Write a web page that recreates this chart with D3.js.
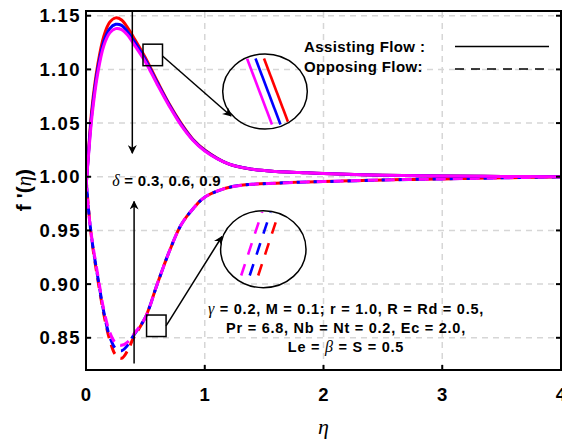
<!DOCTYPE html>
<html>
<head>
<meta charset="utf-8">
<script src="https://cdn.jsdelivr.net/npm/d3@7"></script>
<style>
  body { margin: 0; background: #fff; }
  svg { display: block; }
  .bold { font-family: "Liberation Sans", Arial, sans-serif; font-weight: bold; }
  .greek { font-family: "Liberation Serif", "DejaVu Serif", serif; font-style: italic; }
</style>
</head>
<body>
<div id="chart"></div>
<script>
// eta grid and the six f'(eta) profiles (delta = 0.3, 0.6, 0.9)
var eta = [0, 0.02, 0.05, 0.1, 0.15, 0.2, 0.25, 0.3, 0.35, 0.4, 0.5, 0.6, 0.7, 0.8, 0.9, 1.0, 1.2, 1.4, 1.6, 1.8, 2.0, 2.5, 3.0, 3.5, 4.0];

var assistD03 = [0.99, 1.022, 1.064, 1.105, 1.131, 1.144, 1.148, 1.146, 1.139, 1.130, 1.111, 1.089, 1.068, 1.050, 1.035, 1.025, 1.012, 1.007, 1.005, 1.004, 1.003, 1.0015, 1.0008, 1.0003, 1.0];
var assistD06 = [0.99, 1.020, 1.060, 1.101, 1.126, 1.138, 1.142, 1.141, 1.135, 1.127, 1.109, 1.0875, 1.067, 1.049, 1.0345, 1.0245, 1.012, 1.007, 1.005, 1.004, 1.003, 1.0015, 1.0008, 1.0003, 1.0];
var assistD09 = [0.99, 1.018, 1.056, 1.097, 1.122, 1.134, 1.138, 1.137, 1.132, 1.124, 1.107, 1.086, 1.066, 1.048, 1.034, 1.024, 1.012, 1.007, 1.005, 1.004, 1.003, 1.0015, 1.0008, 1.0003, 1.0];

var opposeD03 = [1.0, 0.972, 0.940, 0.904, 0.872, 0.848, 0.834, 0.831, 0.838, 0.850, 0.869, 0.900, 0.930, 0.955, 0.970, 0.981, 0.990, 0.993, 0.994, 0.995, 0.9955, 0.997, 0.998, 0.999, 1.0];
var opposeD06 = [1.0, 0.971, 0.941, 0.906, 0.874, 0.851, 0.840, 0.838, 0.843, 0.852, 0.869, 0.900, 0.930, 0.955, 0.970, 0.981, 0.990, 0.993, 0.994, 0.995, 0.9955, 0.997, 0.998, 0.999, 1.0];
var opposeD09 = [1.0, 0.970, 0.942, 0.908, 0.876, 0.855, 0.845, 0.843, 0.846, 0.853, 0.869, 0.900, 0.930, 0.955, 0.970, 0.981, 0.990, 0.993, 0.994, 0.995, 0.9955, 0.997, 0.998, 0.999, 1.0];

var xTicks = [0, 1, 2, 3, 4];
var yTicks = [0.85, 0.90, 0.95, 1.00, 1.05, 1.10, 1.15];
var legendLabels = ['Assisting Flow :', 'Opposing Flow:'];
var deltaLabel = '0.3, 0.6, 0.9';
var paramLines = [
    ['\u03b3', ' = 0.2, M = 0.1; r = 1.0, R = Rd = 0.5,'],
    ['Pr = 6.8, Nb = Nt = 0.2, Ec = 2.0,'],
    ['Le = ', '\u03b2', ' = S = 0.5']
];

var colors = ['#ff0000', '#0000ff', '#ff00ff'];

var width = 562, height = 439;
var margin = { top: 11, right: 1, bottom: 69, left: 86 };

var x = d3.scaleLinear().domain([0, 4]).range([margin.left, width - margin.right]);
var y = d3.scaleLinear().domain([0.82, 1.1544]).range([height - margin.bottom, margin.top]);

var svg = d3.select('#chart').append('svg')
    .attr('width', width)
    .attr('height', height);

var defs = svg.append('defs');
defs.append('clipPath').attr('id', 'plotClip')
    .append('rect')
    .attr('x', x(0)).attr('y', y.range()[1])
    .attr('width', x(4) - x(0)).attr('height', y.range()[0] - y.range()[1]);

defs.append('marker')
    .attr('id', 'arrow')
    .attr('viewBox', '0 0 10 10')
    .attr('refX', 9).attr('refY', 5)
    .attr('markerWidth', 9).attr('markerHeight', 9)
    .attr('markerUnits', 'userSpaceOnUse')
    .attr('orient', 'auto')
    .append('path')
    .attr('d', 'M0,0 L10,5 L0,10 L3,5 Z')
    .attr('fill', '#000');

// grid
var grid = svg.append('g');
grid.selectAll('.gx').data(xTicks.slice(1, -1)).enter().append('line')
    .attr('x1', function(d) { return x(d); }).attr('x2', function(d) { return x(d); })
    .attr('y1', y.range()[0]).attr('y2', y.range()[1]);
grid.selectAll('.gy').data(yTicks).enter().append('line')
    .attr('x1', x(0)).attr('x2', x(4))
    .attr('y1', function(d) { return y(d); }).attr('y2', function(d) { return y(d); });
grid.selectAll('line')
    .attr('stroke', '#d6d6d6')
    .attr('stroke-width', 1.5)
    .attr('stroke-dasharray', '6,5');

// curves
var line = d3.line()
    .x(function(d) { return x(d[0]); })
    .y(function(d) { return y(d[1]); })
    .curve(d3.curveCatmullRom.alpha(0.5));

function pairs(vals) {
    return eta.map(function(e, i) { return [e, vals[i]]; });
}

var curves = svg.append('g').attr('clip-path', 'url(#plotClip)');
[opposeD03, opposeD06, opposeD09].forEach(function(vals, i) {
    curves.append('path')
        .attr('d', line(pairs(vals)))
        .attr('fill', 'none')
        .attr('stroke', colors[i])
        .attr('stroke-width', 3)
        .attr('stroke-dasharray', '10,7')
        .attr('stroke-dashoffset', i * 6);
});
[assistD03, assistD06, assistD09].forEach(function(vals, i) {
    curves.append('path')
        .attr('d', line(pairs(vals)))
        .attr('fill', 'none')
        .attr('stroke', colors[i])
        .attr('stroke-width', 3);
});

// frame + ticks
var frame = svg.append('g').attr('stroke', '#000').attr('stroke-width', 2);
frame.append('rect')
    .attr('x', x(0)).attr('y', y.range()[1])
    .attr('width', x(4) - x(0)).attr('height', y.range()[0] - y.range()[1])
    .attr('fill', 'none');
frame.selectAll('.tl').data(yTicks).enter().append('line')
    .attr('x1', x(0)).attr('x2', x(0) + 5)
    .attr('y1', function(d) { return y(d); }).attr('y2', function(d) { return y(d); });
frame.selectAll('.tr').data(yTicks).enter().append('line')
    .attr('x1', x(4)).attr('x2', x(4) - 5)
    .attr('y1', function(d) { return y(d); }).attr('y2', function(d) { return y(d); });
frame.selectAll('.tb').data(xTicks).enter().append('line')
    .attr('x1', function(d) { return x(d); }).attr('x2', function(d) { return x(d); })
    .attr('y1', y.range()[0]).attr('y2', y.range()[0] - 5);

svg.append('g').selectAll('text').data(yTicks).enter().append('text')
    .attr('class', 'bold')
    .attr('x', x(0) - 5)
    .attr('y', function(d) { return y(d); })
    .attr('dy', '0.36em')
    .attr('text-anchor', 'end')
    .attr('font-size', 18.5)
    .attr('letter-spacing', 1.4)
    .text(function(d) { return d.toFixed(2); });

svg.append('g').selectAll('text').data(xTicks).enter().append('text')
    .attr('class', 'bold')
    .attr('x', function(d) { return x(d); })
    .attr('y', 401)
    .attr('text-anchor', 'middle')
    .attr('font-size', 18.5)
    .text(function(d) { return d; });

svg.append('text').attr('class', 'greek')
    .attr('x', x(2)).attr('y', 434)
    .attr('text-anchor', 'middle')
    .attr('font-size', 22)
    .text('\u03b7');

var yl = svg.append('text')
    .attr('transform', 'translate(31,190) rotate(-90)')
    .attr('text-anchor', 'middle')
    .attr('font-size', 21);
yl.append('tspan').attr('class', 'bold').text("f '(");
yl.append('tspan').attr('class', 'greek').text('\u03b7');
yl.append('tspan').attr('class', 'bold').text(')');

// legend
var lg = svg.append('g');
lg.selectAll('text').data(legendLabels).enter().append('text')
    .attr('class', 'bold')
    .attr('x', 304)
    .attr('y', function(d, i) { return 51.5 + i * 20; })
    .attr('font-size', 15)
    .attr('letter-spacing', 0.4)
    .text(function(d) { return d; });
lg.append('line').attr('x1', 455).attr('x2', 549).attr('y1', 46.5).attr('y2', 46.5)
    .attr('stroke', '#000').attr('stroke-width', 1.5);
lg.append('line').attr('x1', 455).attr('x2', 549).attr('y1', 69).attr('y2', 69)
    .attr('stroke', '#000').attr('stroke-width', 1.5).attr('stroke-dasharray', '9,7');

// delta arrows
var ann = svg.append('g');
ann.append('line')
    .attr('x1', x(0.39)).attr('x2', x(0.39))
    .attr('y1', y.range()[1]).attr('y2', y(1.022))
    .attr('stroke', '#000').attr('stroke-width', 1.5)
    .attr('marker-end', 'url(#arrow)');
ann.append('line')
    .attr('x1', x(0.405)).attr('x2', x(0.405))
    .attr('y1', y(0.826)).attr('y2', y(0.977))
    .attr('stroke', '#000').attr('stroke-width', 1.5)
    .attr('marker-end', 'url(#arrow)');
var dt = ann.append('text')
    .attr('x', x(0.22)).attr('y', y(1.0) + 9)
    .attr('font-size', 15)
    .attr('letter-spacing', 0.3);
dt.append('tspan').attr('class', 'greek').attr('font-size', 16).text('\u03b4');
dt.append('tspan').attr('class', 'bold').text(' = ' + deltaLabel);

// parameter text block
var pt = ann.append('text')
    .attr('text-anchor', 'middle')
    .attr('font-size', 14.5)
    .attr('letter-spacing', 0.75);
paramLines.forEach(function(parts, i) {
    parts.forEach(function(p, j) {
        var isGreek = (p === '\u03b3' || p === '\u03b2');
        var ts = pt.append('tspan').attr('class', isGreek ? 'greek' : 'bold').text(p);
        if (isGreek) ts.attr('font-size', 16);
        if (j === 0) ts.attr('x', 346).attr('y', 313.5 + i * 19);
    });
});

// zoom boxes, pointer arrows and magnifier circles
function magnifier(box, target, cx, cy, rx, ry, dashed) {
    var g = ann.append('g');
    g.append('rect')
        .attr('x', box[0]).attr('y', box[1]).attr('width', box[2]).attr('height', box[3])
        .attr('fill', 'none').attr('stroke', '#000').attr('stroke-width', 1.5);
    g.append('line')
        .attr('x1', box[0] + box[2]).attr('y1', dashed ? box[1] + box[3] / 2 : box[1] + box[3] * 0.55)
        .attr('x2', target[0]).attr('y2', target[1])
        .attr('stroke', '#000').attr('stroke-width', 1.5)
        .attr('marker-end', 'url(#arrow)');
    var id = 'mag' + (dashed ? 2 : 1);
    defs.append('clipPath').attr('id', id)
        .append('ellipse').attr('cx', cx).attr('cy', cy).attr('rx', rx - 1).attr('ry', ry - 1);
    var inner = g.append('g').attr('clip-path', 'url(#' + id + ')');
    // three magnified traces, delta = 0.9 (left) to 0.3 (right)
    [2, 1, 0].forEach(function(ci, k) {
        var off = k * 8.5;
        var l = inner.append('line')
            .attr('stroke', colors[ci]).attr('stroke-width', 2.6);
        if (!dashed) {
            l.attr('x1', cx - 18 + off).attr('y1', cy - 33)
             .attr('x2', cx + 7 + off).attr('y2', cy + 33);
        } else {
            l.attr('x1', cx + 1 + off).attr('y1', cy - 44)
             .attr('x2', cx - 23 + off).attr('y2', cy + 29)
             .attr('stroke-dasharray', '12,10')
             .attr('stroke-dashoffset', 4);
        }
    });
    g.append('ellipse')
        .attr('cx', cx).attr('cy', cy).attr('rx', rx).attr('ry', ry)
        .attr('fill', 'none').attr('stroke', '#000').attr('stroke-width', 1.5);
}

magnifier([x(0.48), y(1.1235), 19.5, 21.5], [231, 116], 265, 91.5, 42.3, 37.5, false);
magnifier([x(0.51), y(0.8712), 19.5, 21.5], [222, 236.5], 263.3, 249.2, 42.7, 38.5, true);
</script>
</body>
</html>
